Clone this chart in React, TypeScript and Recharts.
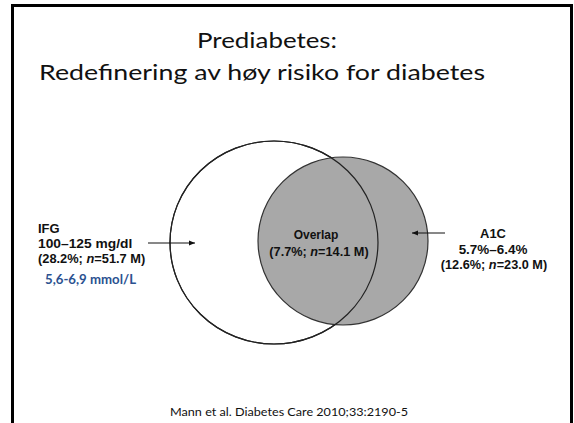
import React from "react";
import { ScatterChart, Scatter, XAxis, YAxis } from "recharts";

// values
const setNames = ["IFG", "A1C", "Overlap"];
const setPercents = [28.2, 12.6, 7.7];
const setCounts = [51.7, 23.0, 14.1];
const setRanges = ["100–125 mg/dl", "5.7%–6.4%"];
const ifgMmol = "5,6-6,9 mmol/L";
const titleLines = ["Prediabetes:", "Redefinering av høy risiko for diabetes"];
const citation = "Mann et al. Diabetes Care 2010;33:2190-5";

// layout (chart units == px, domain matches the canvas)
const W = 574;
const H = 423;
const circleLayout = [
  { x: 274, y: 242.5, rx: 104, ry: 101.5 },
  { x: 343, y: 241, rx: 85, ry: 84 },
];

const statLine = (i: number) => `(${setPercents[i].toFixed(1)}%; n=${setCounts[i].toFixed(1)} M)`;

const LABEL_FONT = "'Liberation Sans', Arial, sans-serif";
const SLIDE_FONT = "Lato, 'Open Sans', sans-serif";

type Label = {
  x: number;
  y: number;
  text: string;
  size: number;
  anchor?: "start" | "middle" | "end";
  bold?: boolean;
  color?: string;
  font?: string;
  len?: number;
  sx?: number;
};

const labels: Label[] = [
  { x: 267, y: 48, text: titleLines[0], size: 22, anchor: "middle", font: SLIDE_FONT, len: 140 },
  { x: 262, y: 80, text: titleLines[1], size: 22, anchor: "middle", font: SLIDE_FONT, len: 446 },
  { x: 38, y: 233, text: setNames[0], size: 12, bold: true, sx: 1.08 },
  { x: 38, y: 248, text: setRanges[0], size: 12, bold: true, sx: 1.15 },
  { x: 38, y: 263, text: statLine(0), size: 12, bold: true, sx: 1.07 },
  { x: 45, y: 284, text: ifgMmol, size: 12.5, bold: true, color: "#2b5190", font: SLIDE_FONT, len: 91 },
  { x: 316, y: 239, text: setNames[2], size: 12, bold: true, anchor: "middle", sx: 1.0 },
  { x: 319, y: 256, text: statLine(2), size: 12, bold: true, anchor: "middle", sx: 1.06 },
  { x: 493, y: 238, text: setNames[1], size: 12, bold: true, anchor: "middle", sx: 1.08 },
  { x: 493, y: 254, text: setRanges[1], size: 12, bold: true, anchor: "middle", sx: 1.12 },
  { x: 494, y: 269, text: statLine(1), size: 12, bold: true, anchor: "middle", sx: 1.06 },
  { x: 289, y: 416, text: citation, size: 12, anchor: "middle", font: SLIDE_FONT, len: 238 },
];

const ifgArrow = [
  { x: 148, y: 243 },
  { x: 195, y: 243, head: 1 },
];
const a1cArrow = [
  { x: 445, y: 233 },
  { x: 412, y: 233, head: -1 },
];

function EllipseShape(props: any) {
  const { cx, cy, payload, fill, stroke } = props;
  return (
    <ellipse cx={cx} cy={cy} rx={payload.rx} ry={payload.ry} fill={fill} stroke={stroke} strokeWidth={1.2} />
  );
}

function ArrowHead(props: any) {
  const { cx, cy, payload } = props;
  if (!payload.head) return <g />;
  const d = payload.head;
  return (
    <path
      d={`M${cx},${cy} L${cx - d * 6},${cy - 2.5} L${cx - d * 6},${cy + 2.5} Z`}
      fill="#111"
    />
  );
}

function renderText(text: string) {
  const parts = text.split(/(n)(?==)/);
  return parts.map((p, i) =>
    p === "n" ? (
      <tspan key={i} fontStyle="italic">
        n
      </tspan>
    ) : (
      <tspan key={i}>{p}</tspan>
    )
  );
}

function TextShape(props: any) {
  const { cx, cy, payload } = props;
  const l: Label = payload;
  const common = {
    textAnchor: l.anchor || "start",
    fontSize: l.size,
    fontWeight: l.bold ? "bold" : "normal",
    fontFamily: l.font || LABEL_FONT,
    fill: l.color || "#111",
  } as const;
  if (l.len) {
    return (
      <text x={cx} y={cy} {...common} textLength={l.len} lengthAdjust="spacingAndGlyphs">
        {l.text}
      </text>
    );
  }
  return (
    <text x={0} y={0} {...common} transform={`translate(${cx},${cy}) scale(${l.sx || 1},1)`}>
      {renderText(l.text)}
    </text>
  );
}

export default function App() {
  return (
    <div style={{ position: "absolute", left: 0, top: 0, width: W, height: H, background: "#fff" }}>
      <div
        style={{
          position: "absolute",
          left: 11,
          top: 4,
          width: 562,
          height: H - 4,
          boxSizing: "border-box",
          border: "3px solid #000",
          borderBottom: "none",
        }}
      />
      <div style={{ position: "absolute", left: 0, top: 0 }}>
        <ScatterChart width={W} height={H} margin={{ top: 0, right: 0, bottom: 0, left: 0 }}>
          <XAxis type="number" dataKey="x" domain={[0, W]} hide />
          <YAxis type="number" dataKey="y" domain={[0, H]} reversed hide />
          <Scatter data={[circleLayout[0]]} fill="#fff" stroke="#222" shape={EllipseShape} isAnimationActive={false} />
          <Scatter data={[circleLayout[1]]} fill="#a8a8a8" stroke="#333" shape={EllipseShape} isAnimationActive={false} />
          <Scatter data={[circleLayout[0]]} fill="none" stroke="#222" shape={EllipseShape} isAnimationActive={false} />
          <Scatter data={ifgArrow} line={{ stroke: "#111", strokeWidth: 1 }} shape={ArrowHead} isAnimationActive={false} />
          <Scatter data={a1cArrow} line={{ stroke: "#111", strokeWidth: 1 }} shape={ArrowHead} isAnimationActive={false} />
          <Scatter data={labels} shape={TextShape} isAnimationActive={false} />
        </ScatterChart>
      </div>
    </div>
  );
}
